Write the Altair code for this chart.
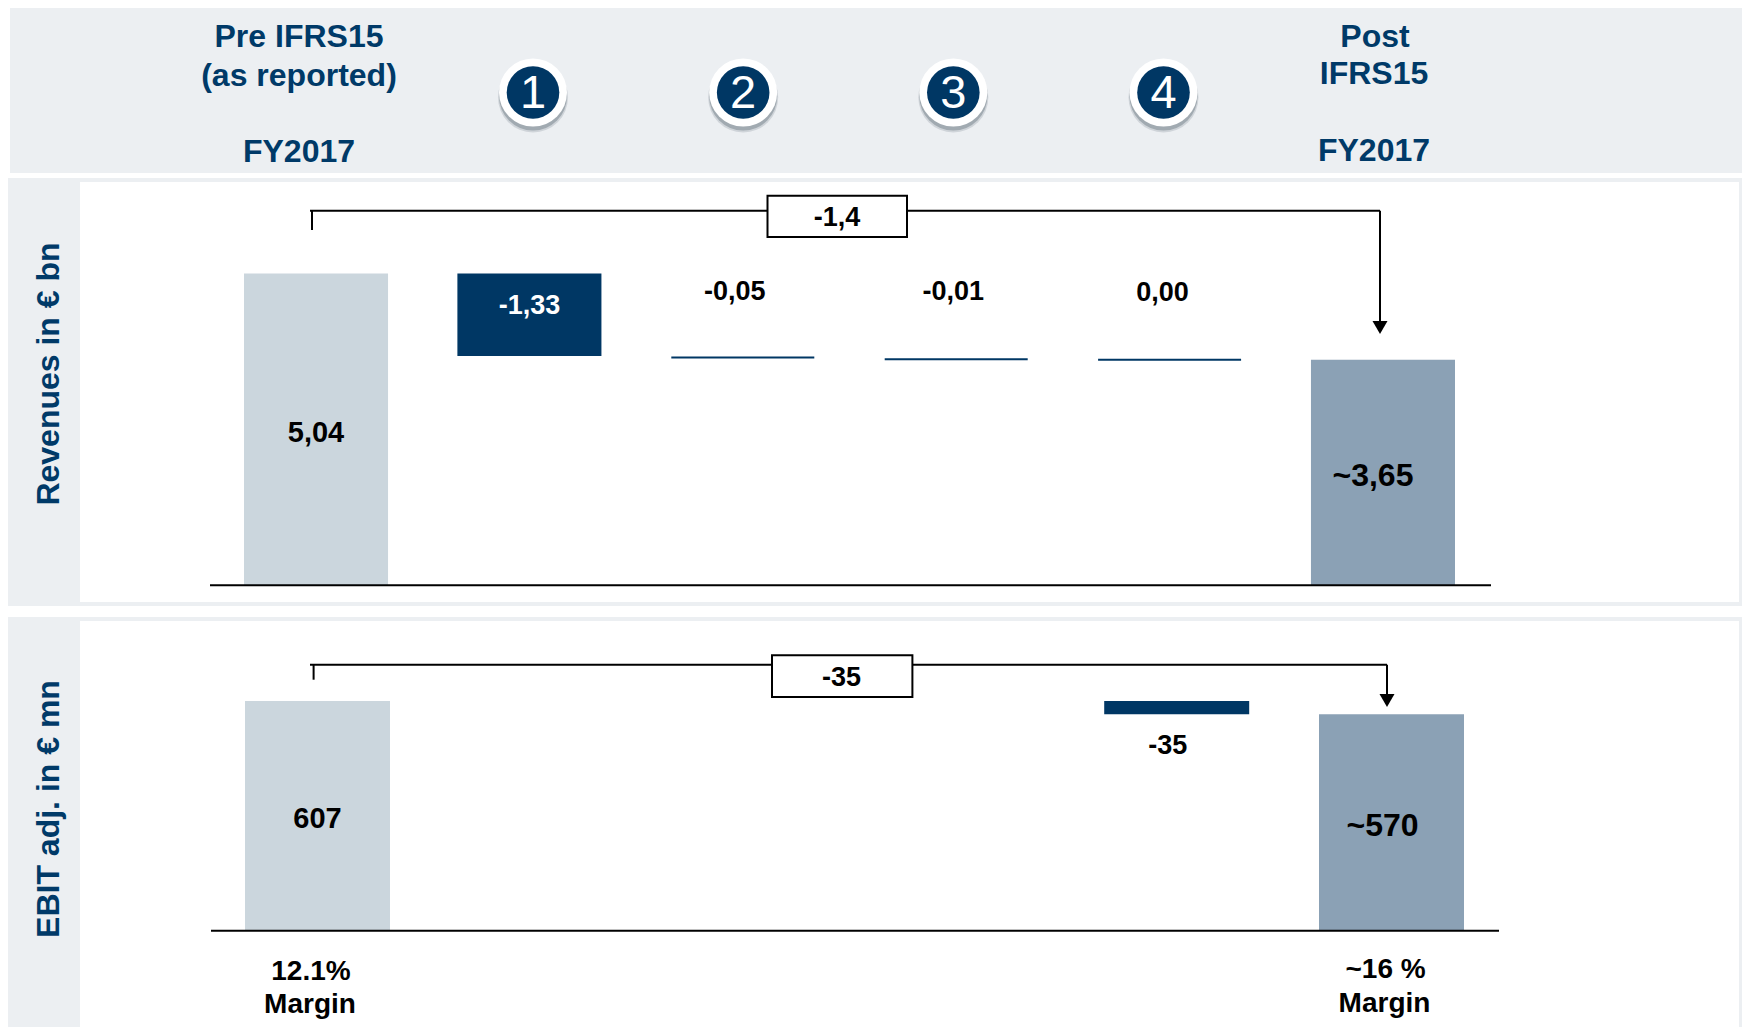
import altair as alt
import pandas as pd

# ---------- data ----------
cats = ["Pre", "1", "2", "3", "4", "Post"]
kinds = ["start", "delta", "delta", "delta", "delta", "end"]
rev_base = [0, 3.71, 3.66, 3.65, 3.65, 0]
rev_top = [5.04, 5.04, 3.71, 3.66, 3.65, 3.65]
ebit_cats = ["Pre", "4", "Post"]
ebit_kinds = ["start", "delta", "end"]
ebit_base = [0, 572, 0]
ebit_top = [607, 607, 572]
rev_labels = ["5,04", "-1,33", "-0,05", "-0,01", "0,00", "~3,65"]
ebit_labels = ["607", "-35", "~570"]
markers = ["1", "2", "3", "4"]

# ---------- layout (view px = page px - 8) ----------
O = 8
TY = 1
NAVY = "#003764"
LIGHT = "#CBD6DD"
STEEL = "#8BA1B5"
PANEL = "#ECEFF2"
HEAD = "#003A68"
FONT = "Liberation Sans"
ONE = pd.DataFrame({"a": [0]})


def rect(x1, y1, x2, y2, fill, stroke=None, sw=0):
    kw = dict(fill=fill, strokeWidth=sw)
    if stroke:
        kw["stroke"] = stroke
    return alt.Chart(ONE).mark_rect(**kw).encode(
        x=alt.value(x1 - O), x2=alt.value(x2 - O), y=alt.value(y1 - O), y2=alt.value(y2 - O))


def hline(x1, x2, y, sw=2):
    return alt.Chart(ONE).mark_rule(color="#000000", strokeWidth=sw).encode(
        x=alt.value(x1 - O), x2=alt.value(x2 - O), y=alt.value(y - O))


def vline(x, y1, y2, sw=2):
    return alt.Chart(ONE).mark_rule(color="#000000", strokeWidth=sw).encode(
        x=alt.value(x - O), y=alt.value(y1 - O), y2=alt.value(y2 - O))


def arrow(x, y):
    return alt.Chart(ONE).mark_point(shape="triangle-down", filled=True, color="#000000",
                                     size=225, opacity=1, strokeWidth=0).encode(
        x=alt.value(x - O), y=alt.value(y - O))


def text(s, x, y, size=27, color="#000000", weight="bold", angle=0):
    return alt.Chart(ONE).mark_text(text=s, font=FONT, fontSize=size, fontWeight=weight, color=color,
                                    align="center", baseline="middle", angle=angle).encode(
        x=alt.value(x - O), y=alt.value(y - O + TY))


bg = alt.layer(
    rect(10, 5, 1745, 173, PANEL),
    rect(5, 178, 1746, 606, PANEL), rect(80, 182, 1739, 602, "#FFFFFF"),
    rect(8, 617, 1746, 1030, PANEL), rect(80, 621, 1739, 1030, "#FFFFFF"),
    text("Pre IFRS15", 299, 36, 32, HEAD), text("(as reported)", 299, 75, 32, HEAD), text("FY2017", 299, 151, 32, HEAD),
    text("Post", 1375, 36, 32, HEAD), text("IFRS15", 1374, 73, 32, HEAD), text("FY2017", 1374, 150, 32, HEAD),
    text("Revenues in € bn", 49, 373, 32, HEAD, angle=270),
    text("EBIT adj. in € mn", 49, 808, 32, HEAD, angle=270),
)

# ---------- numbered circles ----------
mk = pd.DataFrame({"m": markers})
mx = alt.X("m:N", scale=alt.Scale(type="point", domain=markers, range=[533 - O, 1163.5 - O], padding=0), axis=None)
circ_y = alt.value(92.5 - O)


def dot(size, color, op=1, off=0):
    return alt.Chart(mk).mark_point(shape="circle", filled=True, color=color, size=size, opacity=op,
                                    strokeWidth=0, yOffset=off).encode(x=mx, y=circ_y)


circles = alt.layer(
    dot(4900, "#5d6b76", .2, 5), dot(4624, "#5d6b76", .4, 4),
    dot(4624, "#FFFFFF"), dot(2767, NAVY),
    alt.Chart(mk).mark_text(font=FONT, fontSize=47, color="#FFFFFF", baseline="middle", dy=1).encode(x=mx, y=circ_y, text="m:N"),
)

# ---------- waterfalls ----------
KCOL = alt.Color("k:N", scale=alt.Scale(domain=["start", "delta", "end"], range=[LIGHT, NAVY, STEEL]), legend=None)


def waterfall(c, k, base, top, ymax, x0, x1, ytop, ybase, thin_w):
    df = pd.DataFrame({"c": c, "k": k, "b": base, "t": top})
    df["mid"] = (df.b + df.t) / 2
    df["h"] = df.t - df.b
    X = alt.X("c:N", scale=alt.Scale(type="band", domain=cats, range=[x0 - O, x1 - O], paddingInner=.325, paddingOuter=0), axis=None)
    yscale = alt.Scale(domain=[0, ymax], range=[ybase - O, ytop - O], nice=False, zero=False)
    Y = alt.Y("t:Q", scale=yscale, axis=None)
    bars = alt.Chart(df[df.h > ymax * .02]).mark_bar().encode(x=X, y=Y, y2="b:Q", color=KCOL)
    thin = df[df.h <= ymax * .02]
    layers = [bars]
    if len(thin):
        layers.append(alt.Chart(thin).mark_tick(size=thin_w, thickness=2, orient="horizontal", opacity=1).encode(
            x=X, y=alt.Y("mid:Q", scale=yscale, axis=None), color=KCOL))
    return alt.layer(*layers), X


rev, XR = waterfall(cats, kinds, rev_base, rev_top, 5.04, 244, 1455, 273.5, 585.8, 143)
ebit, XE = waterfall(ebit_cats, ebit_kinds, ebit_base, ebit_top, 607, 245, 1464, 701, 930.7, 145)


def vlabel(c, s, X, y, dx=0, size=27, color="#000000"):
    d = pd.DataFrame({"c": [c], "s": [s]})
    return alt.Chart(d).mark_text(font=FONT, fontSize=size, fontWeight="bold", color=color, dx=dx, baseline="middle").encode(
        x=X, y=alt.value(y - O + TY), text="s:N")


rev_all = alt.layer(
    rev,
    hline(210, 1491, 585.3),
    vlabel(cats[0], rev_labels[0], XR, 432, 0, 29),
    vlabel(cats[1], rev_labels[1], XR, 305, 0, 27, "#FFFFFF"),
    vlabel(cats[2], rev_labels[2], XR, 291, -8),
    vlabel(cats[3], rev_labels[3], XR, 291, -3),
    vlabel(cats[4], rev_labels[4], XR, 292, -7),
    vlabel(cats[5], rev_labels[5], XR, 475, -10, 32),
)

ebit_all = alt.layer(
    ebit,
    hline(211, 1499, 930.7),
    vlabel(ebit_cats[0], ebit_labels[0], XE, 818, 0, 29),
    vlabel(ebit_cats[1], ebit_labels[1], XE, 745, -9),
    vlabel(ebit_cats[2], ebit_labels[2], XE, 825, -9, 32),
)

brackets = alt.layer(
    hline(310, 1380, 210.7), vline(312, 210.7, 230), vline(1380, 210.7, 325), arrow(1380, 327.5),
    rect(767.5, 195.7, 907, 237, "#FFFFFF", "#000000", 2), text("-1,4", 837, 217),
    hline(310, 1387, 664.7), vline(313.6, 664.7, 679.7), vline(1387, 664.7, 697), arrow(1387, 700.5),
    rect(772, 655.3, 912.4, 697, "#FFFFFF", "#000000", 2), text("-35", 841.5, 677),
    text("12.1%", 311, 971, 28), text("Margin", 310, 1004, 28),
    text("~16 %", 1385.6, 969, 28), text("Margin", 1384.5, 1003, 28),
)

chart = alt.layer(bg, circles, rev_all, ebit_all, brackets).resolve_scale(
    x="independent", y="independent"
).properties(
    width=1734, height=1019, padding=0, background="#FFFFFF",
    autosize=alt.AutoSizeParams(type="none"),
).configure_view(stroke=None)

chart.save("out.html", embed_options={"renderer": "svg", "actions": False})
